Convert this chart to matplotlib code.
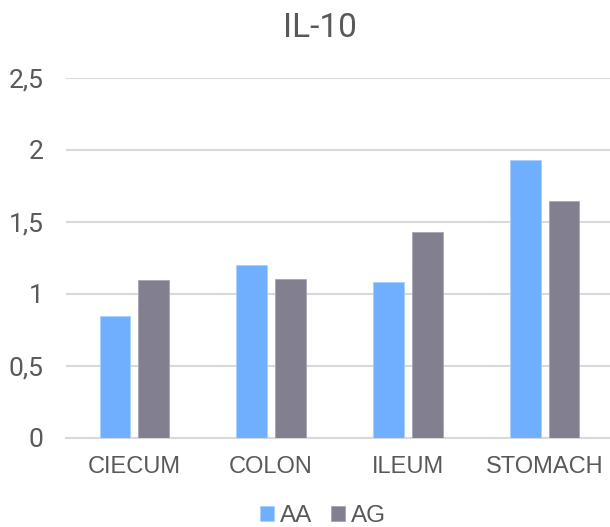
import matplotlib
matplotlib.use("Agg")
import matplotlib.pyplot as plt
import numpy as np

categories = ["CIECUM", "COLON", "ILEUM", "STOMACH"]
aa_values = [0.843, 1.199, 1.079, 1.928]
ag_values = [1.093, 1.100, 1.426, 1.642]
series_names = ["AA", "AG"]
ytick_values = [0, 0.5, 1, 1.5, 2, 2.5]
ytick_labels = ["0", "0,5", "1", "1,5", "2", "2,5"]
title = "IL-10"

c_aa = "#70AFFD"
c_ag = "#827F91"
txt = "#595959"
grid = "#D9D9D9"

fig = plt.figure(figsize=(6.10, 5.27), dpi=100)
ax = fig.add_axes([66 / 610, 1 - 437.7 / 527, (613 - 66) / 610, 360 / 527])

x = np.arange(len(categories))
w = 0.226
ax.bar(x - 0.142, aa_values, w, color=c_aa, edgecolor="#A9CFFE", linewidth=0.6, label=series_names[0], zorder=3)
ax.bar(x + 0.142, ag_values, w, color=c_ag, edgecolor="#A8A6B4", linewidth=0.6, label=series_names[1], zorder=3)

ax.set_xlim(-0.5, 3.5)
ax.set_ylim(0, 2.5)
ax.set_yticks(ytick_values)
ax.set_yticklabels(ytick_labels, fontfamily="Roboto", fontsize=19, color=txt)
ax.set_xticks(x)
ax.set_xticklabels(categories, fontfamily="Liberation Sans", fontsize=17, color=txt)
ax.tick_params(axis="both", length=0)
ax.tick_params(axis="y", pad=16)
ax.tick_params(axis="x", pad=13)
for s in ["top", "right", "left"]:
    ax.spines[s].set_visible(False)
ax.spines["bottom"].set_color(grid)
ax.spines["bottom"].set_linewidth(1.5)
ax.yaxis.grid(True, color=grid, linewidth=1.5, zorder=0)
ax.set_axisbelow(True)

fig.text(320 / 610, 1 - 28 / 527, title, ha="center", va="center",
         fontfamily="Roboto", fontsize=24, color=txt)

leg = fig.legend(loc="center", bbox_to_anchor=(323 / 610, 1 - 516 / 527), ncol=2, frameon=False,
                 prop={"family": "Liberation Sans", "size": 17.5}, handlelength=0.55, handleheight=0.55,
                 handletextpad=0.25, columnspacing=0.8, labelcolor=txt)

fig.savefig("out.png", dpi=100, facecolor="white")
